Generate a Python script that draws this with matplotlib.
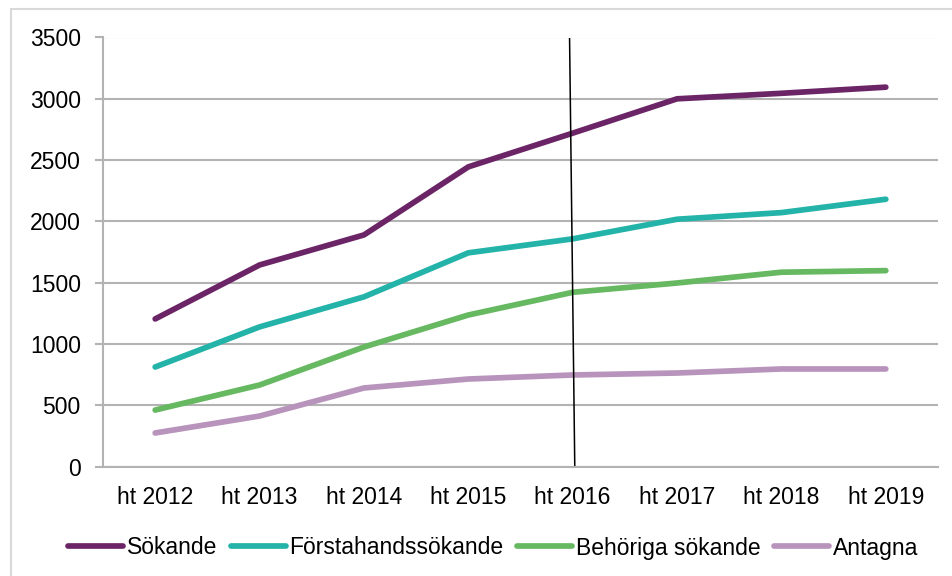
#line chart of applicants per autumn term
import matplotlib.pyplot as plt
from matplotlib.patches import Rectangle

plt.rcParams['font.family'] = ['Liberation Sans', 'DejaVu Sans']

terms = ['ht 2012', 'ht 2013', 'ht 2014', 'ht 2015', 'ht 2016', 'ht 2017', 'ht 2018', 'ht 2019']
sokande = [1205, 1645, 1890, 2445, 2720, 3000, 3045, 3095]
forstahand = [813, 1140, 1385, 1744, 1858, 2018, 2072, 2181]
behoriga = [462, 666, 976, 1237, 1422, 1498, 1586, 1599]
antagna = [275, 413, 642, 715, 748, 764, 797, 797]

series = [
    ('Sökande', sokande, '#6B2567'),
    ('Förstahandssökande', forstahand, '#23B3A8'),
    ('Behöriga sökande', behoriga, '#66B861'),
    ('Antagna', antagna, '#B894BC'),
]

fs = 16.5

fig = plt.figure(figsize=(9.52, 5.76), dpi=100)
ax = fig.add_axes([103 / 952, 1 - 466.7 / 576, 835 / 952, (466.7 - 37.5) / 576])

x = list(range(len(terms)))
for name, vals, col in series:
    ax.plot(x, vals, color=col, lw=4.1, solid_capstyle='round', label=name)

# marker line at ht 2016
ax.plot([3.97, 4.02], [3500, 0], color='black', lw=1.1)

ax.set_xlim(-0.5, len(terms) - 0.5)
ax.set_ylim(0, 3500)
ax.set_yticks(range(0, 3501, 500))
ax.set_xticks(x)
ax.set_xticklabels(terms)
ax.yaxis.grid(True, color='#B3B3B3', lw=1.5)
ax.set_axisbelow(True)
for s in ['top', 'right']:
    ax.spines[s].set_visible(False)
for s in ['left', 'bottom']:
    ax.spines[s].set_color('#B3B3B3')
    ax.spines[s].set_linewidth(1.5)
ax.tick_params(axis='y', length=6, color='#B3B3B3', width=1.5, labelsize=fs, pad=10)
ax.tick_params(axis='x', length=0, labelsize=fs, pad=14)

leg = fig.legend(loc='center', bbox_to_anchor=(0.518, 1 - 548 / 576), ncol=4, frameon=False,
                 fontsize=fs, handlelength=2.4, handletextpad=0.15, columnspacing=0.6)

# chart frame, cut off on the right and bottom
fig.patches.append(Rectangle((11 / 952, -0.1), 1.2, 1.1 - 9 / 576, transform=fig.transFigure,
                             fill=False, edgecolor='#D9D9D9', lw=1.5))

plt.savefig('out.png', dpi=100)
